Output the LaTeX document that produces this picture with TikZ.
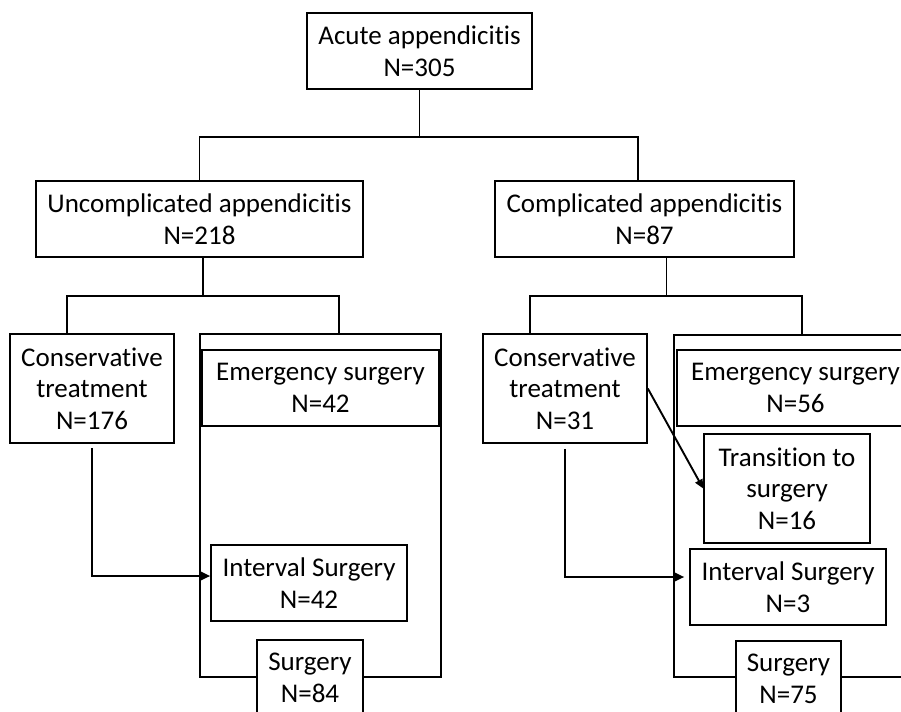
\documentclass[tikz,border=0pt]{standalone}
\usepackage{fontspec}
\setmainfont{Carlito}[Ligatures=NoCommon]
\usetikzlibrary{arrows.meta,calc}
\begin{document}
\begin{tikzpicture}[x=1bp,y=-1bp,
  box/.style={draw, line width=1.6bp, align=center, inner sep=0pt, fill=white,
    font=\fontsize{27bp}{31.5bp}\selectfont},
  frame/.style={draw, line width=1.6bp, inner sep=0pt},
  conn/.style={line width=1.9bp},
  arr/.style={line width=1.9bp, -{Triangle[length=9bp,width=8bp]}}]
\useasboundingbox (0,0) rectangle (901,712);
\clip (0,0) rectangle (901,712);
% top
\node[box, minimum width=225bp, minimum height=76bp] (acute) at (419.5,51) {Acute appendicitis\\N=305};
\node[box, minimum width=327bp, minimum height=76bp] (unc) at (199.5,219) {Uncomplicated appendicitis\\N=218};
\node[box, minimum width=299bp, minimum height=76bp] (comp) at (644.5,219) {Complicated appendicitis\\N=87};
% left branch
\node[box, minimum width=164bp, minimum height=109bp] (cons1) at (92,388.5) {Conservative\\treatment\\N=176};
\node[frame, minimum width=241bp, minimum height=343bp] (outer1) at (320.5,505.5) {};
\node[box, minimum width=237bp, minimum height=76bp] (em1) at (320.5,388) {Emergency surgery\\N=42};
\node[box, minimum width=196bp, minimum height=76bp] (int1) at (309,583) {Interval Surgery\\N=42};
\node[box, minimum width=106bp, minimum height=76bp] (surg1) at (310,678) {Surgery\\N=84};
% right branch
\node[box, minimum width=164bp, minimum height=109bp] (cons2) at (565,388.5) {Conservative\\treatment\\N=31};
\node[frame, minimum width=246bp, minimum height=342bp] (outer2) at (797,506) {};
\node[box, minimum width=237bp, minimum height=76bp] (em2) at (795.5,388) {Emergency surgery\\N=56};
\node[box, minimum width=166bp, minimum height=109bp] (trans) at (787,488.5) {Transition to\\surgery\\N=16};
\node[box, minimum width=196bp, minimum height=76bp] (int2) at (788,587) {Interval Surgery\\N=3};
\node[box, minimum width=105bp, minimum height=76bp] (surg2) at (788.5,679) {Surgery\\N=75};
% connectors
\draw[conn] (acute.south) -- ++(0,47) coordinate (j1);
\draw[conn] (unc.north) |- (j1) -| ($(comp.north)+(-6.5,0)$);
\draw[conn] ($(unc.south)+(3.5,0)$) -- ++(0,38) coordinate (j2);
\draw[conn] ($(cons1.north)+(-25,0)$) |- (j2) -| ($(outer1.north)+(18.5,0)$);
\draw[conn] ($(comp.south)+(22,0)$) -- ++(0,38) coordinate (j3);
\draw[conn] ($(cons2.north)+(-35,0)$) |- (j3) -| ($(outer2.north)+(5,0)$);
\draw[arr] ($(cons1.south)+(0,4)$) |- ($(int1.west)+(0,-7)$);
\draw[arr] ($(cons2.south)+(0,5)$) |- ($(int2.west)+(-5,-10)$);
\draw[arr] (cons2.east) -- (trans.west);
\end{tikzpicture}
\end{document}
